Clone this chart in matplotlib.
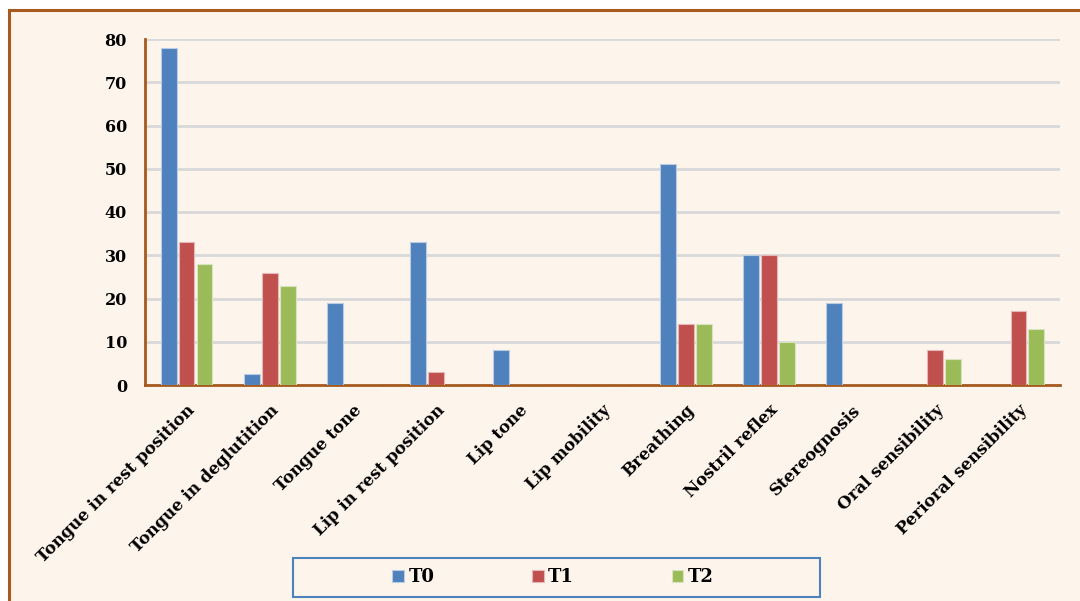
import numpy as np
import matplotlib
matplotlib.use("Agg")
import matplotlib.pyplot as plt
from matplotlib.patches import Rectangle

categories = ["Tongue in rest position", "Tongue in deglutition", "Tongue tone",
              "Lip in rest position", "Lip tone", "Lip mobility", "Breathing",
              "Nostril reflex", "Stereognosis", "Oral sensibility", "Perioral sensibility"]
t0 = [78, 2.5, 19, 33, 8, 0, 51, 30, 19, 0, 0]
t1 = [33, 26, 0, 3, 0, 0, 14, 30, 0, 8, 17]
t2 = [28, 23, 0, 0, 0, 0, 14, 10, 0, 6, 13]
series_names = ["T0", "T1", "T2"]

colors = ["#4F81BD", "#C0504D", "#9BBB59"]
edges = ["#B8CCE4", "#E6B9B8", "#D7E4BD"]
bg = "#FDF4EC"
brown = "#A65A1E"

plt.rcParams["font.family"] = "DejaVu Serif"
plt.rcParams["font.weight"] = "bold"

fig = plt.figure(figsize=(10.8, 6.01), dpi=100, facecolor="white")
# chart area with brown frame
fig.patches.append(Rectangle((9 / 1080, -0.05), 1.1, 1 - 10 / 601 + 0.05,
                             transform=fig.transFigure, facecolor=bg,
                             edgecolor=brown, linewidth=2.2, zorder=-2))

ax = fig.add_axes([145 / 1080, 1 - 385 / 601, 915 / 1080, 346 / 601])
ax.patch.set_visible(False)

x = np.arange(len(categories))
w = 0.19
step = 0.216
for i, vals in enumerate([t0, t1, t2]):
    v = np.array(vals, dtype=float)
    ax.bar(x + (i - 1) * step, v, width=w, color=colors[i], edgecolor=edges[i],
           linewidth=0.8, label=series_names[i], zorder=3)

ax.set_xlim(-0.5, len(categories) - 0.5)
ax.set_ylim(0, 80)
ax.set_yticks(range(0, 81, 10))
ax.yaxis.grid(True, color="#D9D9D9", linewidth=2, zorder=0)
ax.set_axisbelow(True)

for s in ["top", "right"]:
    ax.spines[s].set_visible(False)
for s in ["left", "bottom"]:
    ax.spines[s].set_color(brown)
    ax.spines[s].set_linewidth(2)

ax.tick_params(axis="both", length=0)
ax.tick_params(axis="y", pad=13, labelsize=11.5)
ax.set_xticks(x)
ax.set_xticklabels(categories, rotation=45, ha="right", va="top",
                   rotation_mode="anchor", fontsize=12, fontweight="bold")
ax.tick_params(axis="x", pad=12)

# legend box
fig.patches.append(Rectangle((293 / 1080, 1 - 597 / 601), 527 / 1080, 39 / 601,
                             transform=fig.transFigure, facecolor=bg,
                             edgecolor="#4F81BD", linewidth=1.5, zorder=-1))
leg = fig.legend(loc="center", bbox_to_anchor=(553 / 1080, 1 - 577 / 601),
                 ncol=3, frameon=False, fontsize=13, handlelength=0.65,
                 handleheight=0.65, handletextpad=0.25, columnspacing=5.4)
for t in leg.get_texts():
    t.set_fontweight("bold")

fig.savefig("out.png", dpi=100, facecolor="white")
